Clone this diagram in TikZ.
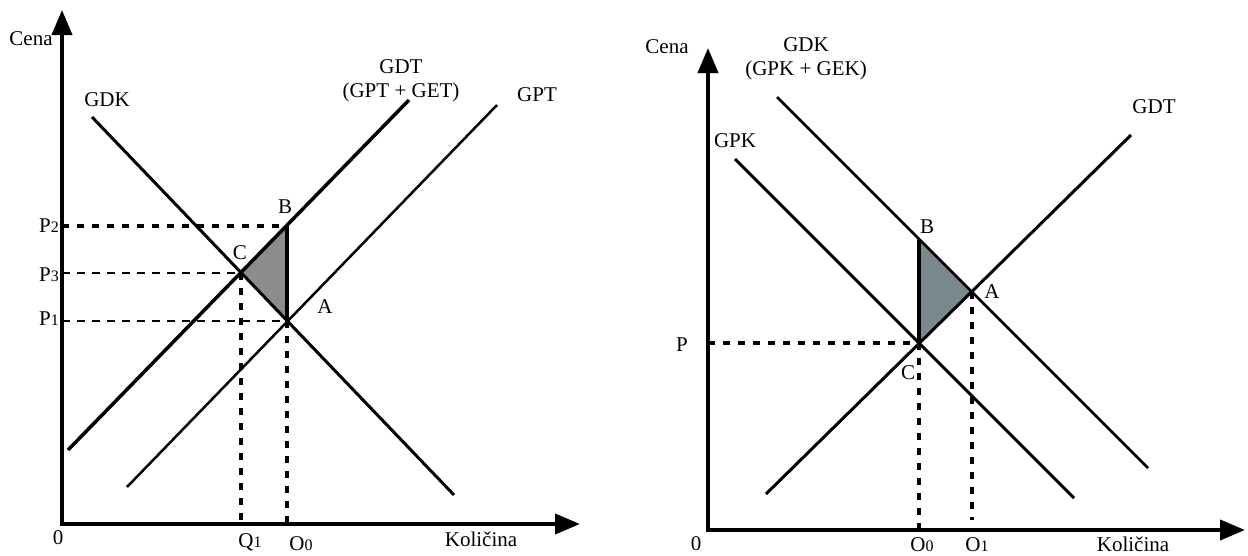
\documentclass[tikz,border=0pt]{standalone}
\usepackage{fontspec}
\setmainfont{Liberation Serif}
\usetikzlibrary{arrows.meta}
\newcommand\dg[1]{{\fontsize{16}{16}\selectfont #1}}
\definecolor{leftfill}{HTML}{8C8C8C}
\definecolor{rightfill}{HTML}{7A898E}
\begin{document}
\begin{tikzpicture}[x=1pt,y=-1pt,
  axis/.style={line width=4pt,{Triangle[length=25pt,width=20pt]}-{Triangle[length=25pt,width=20pt]}},
  curve/.style={line width=3pt},
  thincurve/.style={line width=2.5pt},
  thickcurve/.style={line width=3.5pt},
  guide/.style={line width=3.5pt,dash pattern=on 7pt off 8pt},
  thinguide/.style={line width=2.8pt,dash pattern=on 8pt off 7pt},
  lab/.style={font=\fontsize{21}{25}\selectfont,inner sep=0pt,text=black}]
\useasboundingbox (0,0) rectangle (1248,555);

% ---------------- left graph ----------------
\coordinate (LO) at (62,524);
\coordinate (LY) at (62,10);
\coordinate (LX) at (580,524);
\coordinate (C) at (241,273);
\coordinate (B) at (287,226);
\coordinate (A) at (287,321);
\coordinate (GDKa) at (92,117);
\coordinate (GDKb) at (454,495);
\coordinate (GDTa) at (68,450);
\coordinate (GDTb) at (409,100);
\coordinate (GPTa) at (127,487);
\coordinate (GPTb) at (497,105);

\fill[leftfill] (B) -- (C) -- (A) -- cycle;
\draw[guide] (LO |- B) -- (B);
\draw[thinguide] (LO |- C) -- (C);
\draw[thinguide] (LO |- A) -- (A);
\draw[guide] (C) -- (C |- LO);
\draw[guide] (A) -- (A |- LO);
\draw[curve] (GDKa) -- (GDKb);
\draw[thickcurve] (GDTa) -- (GDTb);
\draw[thincurve] (GPTa) -- (GPTb);
\draw[thickcurve] (B) -- (A);
\draw[axis] (LY) -- (LO) -- (LX);

\node[lab] (lCena) at (31,39) {Cena};
\node[lab] (lGDK) at (107,100) {GDK};
\node[lab] (lGDT) at (401,67) {GDT};
\node[lab] (lGDTs) at (401,92) {(GPT + GET)};
\node[lab] (lB) at (285,207) {B};
\node[lab] (lGPT) at (537,95) {GPT};
\node[lab] (lC) at (240,253) {C};
\node[lab] (lA) at (325,307) {A};
\node[lab,anchor=east] (lP2) at (59,226) {P\dg{2}};
\node[lab,anchor=east] (lP3) at (59,275) {P\dg{3}};
\node[lab,anchor=east] (lP1) at (59,319) {P\dg{1}};
\node[lab] (l0) at (58,538) {0};
\node[lab] (lQ1) at (250,542) {Q\dg{1}};
\node[lab] (lO0) at (301,544) {O\dg{0}};
\node[lab] (lKol) at (481,539) {Količina};

% ---------------- right graph ----------------
\coordinate (RO) at (708,530);
\coordinate (RY) at (708,48);
\coordinate (RX) at (1245,530);
\coordinate (rC) at (919,343);
\coordinate (rB) at (919,239);
\coordinate (rA) at (972,292);
\coordinate (rO1) at (972,520);
\coordinate (rGPKa) at (735,159);
\coordinate (rGPKb) at (1074,498);
\coordinate (rGDKa) at (777,97);
\coordinate (rGDKb) at (1148,468);
\coordinate (rGDTa) at (766,494);
\coordinate (rGDTb) at (1131,135);

\fill[rightfill] (rB) -- (rC) -- (rA) -- cycle;
\draw[guide] (RO |- rC) -- (rC);
\draw[guide] (rC) -- (rC |- RO);
\draw[guide] (rA) -- (rO1);
\draw[thincurve] (rGDKa) -- (rGDKb);
\draw[curve] (rGPKa) -- (rGPKb);
\draw[curve] (rGDTa) -- (rGDTb);
\draw[thickcurve] (rB) -- (rC);
\draw[axis] (RY) -- (RO) -- (RX);

\node[lab] (rCena) at (667,47) {Cena};
\node[lab] (rlGDK) at (806,45) {GDK};
\node[lab] (rlGDKs) at (806,70) {(GPK + GEK)};
\node[lab] (rlGPK) at (735,141) {GPK};
\node[lab] (rlGDT) at (1154,107) {GDT};
\node[lab] (rlB) at (927,227) {B};
\node[lab] (rlA) at (992,292) {A};
\node[lab] (rlC) at (908,373) {C};
\node[lab] (rlP) at (682,345) {P};
\node[lab] (rl0) at (696,544) {0};
\node[lab] (rlO0) at (922,545) {O\dg{0}};
\node[lab] (rlO1) at (977,545) {O\dg{1}};
\node[lab] (rlKol) at (1133,544) {Količina};
\end{tikzpicture}
\end{document}
